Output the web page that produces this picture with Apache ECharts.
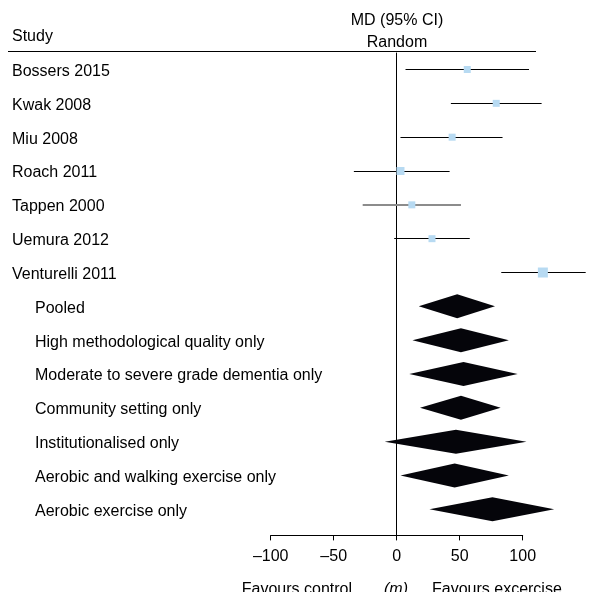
<!DOCTYPE html>
<html>
<head>
<meta charset="utf-8">
<script src="https://cdn.jsdelivr.net/npm/echarts@6/dist/echarts.min.js"></script>
<style>
  html, body { margin: 0; padding: 0; background: #fff; }
  #chart { width: 598px; height: 592px; }
</style>
</head>
<body>
<div id="chart"></div>
<script>
// Individual studies: mean difference (m) with 95% CI
const studies = ['Bossers 2015', 'Kwak 2008', 'Miu 2008', 'Roach 2011', 'Tappen 2000', 'Uemura 2012', 'Venturelli 2011'];
const studyMD = [56, 79, 44, 3, 12, 28, 116];
const studyLo = [7, 43, 3, -34, -27, -2, 83];
const studyHi = [105, 115, 84, 42, 51, 58, 150];

// Pooled and subgroup estimates (random effects)
const subgroups = ['Pooled', 'High methodological quality only', 'Moderate to severe grade dementia only',
  'Community setting only', 'Institutionalised only', 'Aerobic and walking exercise only', 'Aerobic exercise only'];
const subMD = [48, 51, 53, 51, 47, 46, 76];
const subLo = [17.5, 12.5, 10, 18.5, -9.5, 3, 26];
const subHi = [78, 89, 96, 82.5, 103, 89, 125];

// Axis ticks
const xTicks = [-100, -50, 0, 50, 100];

const FONT = '"Liberation Sans", Arial, sans-serif';
const squareSize = [7, 7, 7, 8, 7, 7, 10];
const nRows = studies.length + subgroups.length;
const crisp = v => Math.round(v - 0.5) + 0.5;

const chart = echarts.init(document.getElementById('chart'), null, { renderer: 'canvas' });

const rowLabels = studies.map((s, i) => ({ value: [0, i], name: s, indent: false }))
  .concat(subgroups.map((s, i) => ({ value: [0, studies.length + i], name: s, indent: true })));

const option = {
  animation: false,
  backgroundColor: '#fff',
  grid: [
    { left: 270.7, top: 52.6, width: 315, height: 482.8 },
    { left: 270.7, top: 52.6, width: 252, height: 482.8 }
  ],
  xAxis: [
    { gridIndex: 0, type: 'value', min: -100, max: 150, show: false },
    {
      gridIndex: 1, type: 'value', min: xTicks[0], max: xTicks[xTicks.length - 1], interval: 50,
      axisLine: { show: true, lineStyle: { color: '#000', width: 1 } },
      axisTick: { show: true, length: 5, lineStyle: { color: '#000', width: 1 } },
      splitLine: { show: false },
      axisLabel: {
        color: '#000', fontSize: 16, fontFamily: FONT, margin: 13,
        formatter: v => String(v).replace('-', '\u2013')
      }
    }
  ],
  yAxis: [
    { gridIndex: 0, type: 'value', inverse: true, min: -0.5, max: nRows - 0.23, show: false },
    { gridIndex: 1, type: 'value', min: 0, max: 1, show: false }
  ],
  series: [
    // empty series keeps the tick axis alive
    { type: 'scatter', xAxisIndex: 1, yAxisIndex: 1, data: [], silent: true },
    // line of no effect
    {
      type: 'custom', xAxisIndex: 0, yAxisIndex: 0, silent: true,
      data: [[0]],
      renderItem: (params, api) => {
        const top = api.coord([0, -0.5]);
        const bot = api.coord([0, nRows - 0.23]);
        const x = crisp(top[0]);
        return { type: 'line', shape: { x1: x, y1: top[1], x2: x, y2: bot[1] },
          style: { stroke: '#000', lineWidth: 1 } };
      }
    },
    // confidence intervals of the studies
    {
      type: 'custom', xAxisIndex: 0, yAxisIndex: 0, silent: true,
      data: studies.map((s, i) => [studyLo[i], studyHi[i], i]),
      renderItem: (params, api) => {
        const a = api.coord([api.value(0), api.value(2)]);
        const b = api.coord([api.value(1), api.value(2)]);
        const grey = studies[params.dataIndex] === 'Tappen 2000';
        const y = grey ? Math.round(a[1]) : crisp(a[1]);
        return { type: 'line', shape: { x1: a[0], y1: y, x2: b[0], y2: y },
          style: { stroke: grey ? '#8c8c8c' : '#000', lineWidth: grey ? 2 : 1 } };
      }
    },
    // point estimates
    {
      type: 'scatter', xAxisIndex: 0, yAxisIndex: 0, silent: true,
      symbol: 'rect',
      symbolSize: (val, params) => squareSize[params.dataIndex],
      itemStyle: { color: '#b7daf2', opacity: 1 },
      data: studies.map((s, i) => [studyMD[i], i]),
      z: 5
    },
    // pooled / subgroup diamonds
    {
      type: 'custom', xAxisIndex: 0, yAxisIndex: 0, silent: true,
      data: subgroups.map((s, i) => [subLo[i], subMD[i], subHi[i], studies.length + i]),
      renderItem: (params, api) => {
        const row = api.value(3);
        const l = api.coord([api.value(0), row]);
        const m = api.coord([api.value(1), row]);
        const r = api.coord([api.value(2), row]);
        const h = 12;
        return { type: 'polygon',
          shape: { points: [[l[0], l[1]], [m[0], m[1] - h], [r[0], r[1]], [m[0], m[1] + h]] },
          style: { fill: '#05050a' } };
      }
    },
    // row labels
    {
      type: 'custom', xAxisIndex: 0, yAxisIndex: 0, silent: true,
      data: rowLabels,
      renderItem: (params, api) => {
        const item = rowLabels[params.dataIndex];
        const p = api.coord([0, api.value(1)]);
        return { type: 'text',
          style: { x: item.indent ? 35 : 12, y: p[1] + 2, text: item.name, fill: '#000',
            font: '16px ' + FONT, align: 'left', verticalAlign: 'middle' } };
      }
    }
  ],
  graphic: [
    { type: 'text', x: 12, y: 37, style: { text: 'Study', fill: '#000', font: '16px ' + FONT, align: 'left', verticalAlign: 'middle' } },
    { type: 'text', x: 397, y: 21, style: { text: 'MD (95% CI)', fill: '#000', font: '16px ' + FONT, align: 'center', verticalAlign: 'middle' } },
    { type: 'text', x: 397, y: 43, style: { text: 'Random', fill: '#000', font: '16px ' + FONT, align: 'center', verticalAlign: 'middle' } },
    { type: 'line', shape: { x1: 8, y1: 51.5, x2: 536, y2: 51.5 }, style: { stroke: '#000', lineWidth: 1 } },
    { type: 'text', x: 352, y: 590, style: { text: 'Favours control', fill: '#000', font: '16px ' + FONT, align: 'right', verticalAlign: 'middle' } },
    { type: 'text', x: 396, y: 590, style: { text: '(m)', fill: '#000', font: 'italic 16px ' + FONT, align: 'center', verticalAlign: 'middle' } },
    { type: 'text', x: 432, y: 590, style: { text: 'Favours excercise', fill: '#000', font: '16px ' + FONT, align: 'left', verticalAlign: 'middle' } }
  ]
};

chart.setOption(option);
</script>
</body>
</html>
